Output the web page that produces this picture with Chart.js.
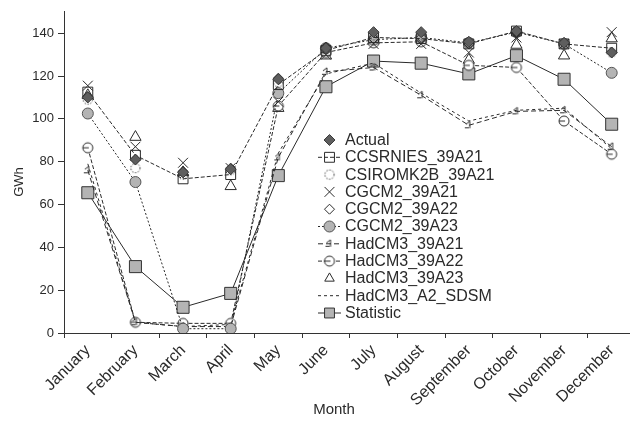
<!DOCTYPE html>
<html>
<head>
<meta charset="utf-8">
<script src="https://cdn.jsdelivr.net/npm/chart.js@4.4.1/dist/chart.umd.min.js"></script>
<style>
html,body{margin:0;padding:0;background:#fff;overflow:hidden;}
#wrap{width:645px;height:426px;}
</style>
</head>
<body>
<div id="wrap"><canvas id="c" width="645" height="426"></canvas></div>
<script>
const months = ["January","February","March","April","May","June","July","August","September","October","November","December"];
const yTicks = [0,20,40,60,80,100,120,140];
const xTitle = "Month";
const yTitle = "GWh";
const actual     = [110, 81, 75, 76.5, 118.5, 133, 140.5, 140.5, 136, 141, 135.5, 131];
const ccsrnies   = [112.5, 83, 72, 74, 116, 132, 138, 137.5, 135, 141, 135, 133];
const csiromk2b  = [109, 77, 74, 76, 117, 133, 139, 139, 135.5, 140.5, 135, 131];
const cgcm2_21   = [115.5, 87, 79.5, 77, 108, 130, 135, 135, 131, 138, 135, 140.5];
const cgcm2_22   = [110.5, 81, 75.5, 77, 119, 133.5, 137.5, 138, 135, 140, 135.5, 131];
const cgcm2_23   = [102.5, 70.5, 2, 2, 112, 133, 137, 138, 135.5, 140.5, 135, 121.5];
const hadcm3_21  = [76, 5, 3, 3, 82, 122, 124, 111, 97, 103.5, 104, 87];
const hadcm3_22  = [86.5, 5, 4.5, 4.5, 106, 131, 135.5, 136, 125, 124, 99, 83.5];
const hadcm3_23  = [111, 91.5, 75, 68.5, 105, 129.5, 136.5, 138, 127.5, 134.5, 129.5, 137.5];
const sdsm       = [79, 5, 3, 4, 84, 121, 126, 112, 99, 104, 105, 86];
const statistic  = [65.5, 31, 12, 18.5, 73.5, 115, 127, 126, 121, 129.5, 118.5, 97.5];

const INK = '#2a2a2a';
const FONT = "'Liberation Sans', Arial, sans-serif";

function makeMarker(drawFn){
  const cv = document.createElement('canvas');
  cv.width = 14; cv.height = 14;
  const g = cv.getContext('2d');
  g.translate(7,7);
  drawFn(g);
  return cv;
}
const dottedCircle = makeMarker(g=>{
  g.strokeStyle = INK; g.lineWidth = 1; g.setLineDash([1.4,1.6]);
  g.beginPath(); g.arc(0,0,4.6,0,Math.PI*2); g.stroke();
});
const minusCircle = makeMarker(g=>{
  g.fillStyle='#fff'; g.strokeStyle = INK; g.lineWidth = 1;
  g.beginPath(); g.arc(0,0,5,0,Math.PI*2); g.fill(); g.stroke();
  g.beginPath(); g.moveTo(-5,0); g.lineTo(1,0); g.stroke();
});
const hadDash = makeMarker(g=>{
  g.strokeStyle = INK; g.lineWidth = 1;
  g.beginPath(); g.moveTo(-4,2.5); g.lineTo(0,2.5); g.stroke();
  g.beginPath(); g.moveTo(-3,-1); g.lineTo(1,-4); g.lineTo(1,3); g.stroke();
});

const ds = (label, data, o) => Object.assign({
  label, data, borderColor: INK, pointBorderColor: INK, pointBackgroundColor: '#fff',
  borderWidth: 1, pointBorderWidth: 1, fill: false, tension: 0, showLine: true
}, o);

const datasets = [
  ds('Actual', actual, {showLine:false, pointStyle:'rectRot', pointRadius:5.5, pointBackgroundColor:'#5e5e5e', pointBorderColor:'#3a3a3a'}),
  ds('CCSRNIES_39A21', ccsrnies, {borderDash:[4,2], pointStyle:'rect', pointRadius:7, pointBackgroundColor:'rgba(255,255,255,0)'}),
  ds('CSIROMK2B_39A21', csiromk2b, {showLine:false, pointStyle:dottedCircle, pointRadius:5}),
  ds('CGCM2_39A21', cgcm2_21, {showLine:false, pointStyle:'crossRot', pointRadius:7}),
  ds('CGCM2_39A22', cgcm2_22, {showLine:false, pointStyle:'rectRot', pointRadius:5, pointBackgroundColor:'rgba(255,255,255,0)'}),
  ds('CGCM2_39A23', cgcm2_23, {borderDash:[2,2], pointStyle:'circle', pointRadius:5.5, pointBackgroundColor:'#b4b4b4', pointBorderColor:'#555'}),
  ds('HadCM3_39A21', hadcm3_21, {borderDash:[5,3], pointStyle:hadDash, pointRadius:5}),
  ds('HadCM3_39A22', hadcm3_22, {borderDash:[4,2], pointStyle:minusCircle, pointRadius:5}),
  ds('HadCM3_39A23', hadcm3_23, {showLine:false, pointStyle:'triangle', pointRadius:6.5, pointBackgroundColor:'rgba(255,255,255,0)'}),
  ds('HadCM3_A2_SDSM', sdsm, {borderDash:[3,3], pointRadius:0, pointStyle:false}),
  ds('Statistic', statistic, {pointStyle:'rect', pointRadius:8.5, pointBackgroundColor:'#b4b4b4', pointBorderColor:'#333'})
];

const legendPlugin = {
  id: 'customLegend',
  afterDraw(chart){
    const ctx = chart.ctx;
    const x0 = 318, x1 = 341, mx = 329.5, tx = 345, y0 = 140, dy = 17.3;
    ctx.save();
    ctx.font = '16px ' + FONT;
    ctx.textBaseline = 'middle';
    ctx.textAlign = 'left';
    chart.data.datasets.forEach((d, i) => {
      const y = y0 + i*dy;
      if (d.showLine !== false) {
        ctx.save();
        ctx.strokeStyle = d.borderColor; ctx.lineWidth = 1;
        ctx.setLineDash(d.borderDash || []);
        ctx.beginPath(); ctx.moveTo(x0, y); ctx.lineTo(x1, y); ctx.stroke();
        ctx.restore();
      }
      if (d.pointStyle && d.pointRadius > 0) {
        ctx.save();
        ctx.fillStyle = d.pointBackgroundColor;
        ctx.strokeStyle = d.pointBorderColor;
        ctx.lineWidth = d.pointBorderWidth;
        let r = Math.min(d.pointRadius, 6);
        if (d.pointStyle === 'rect') r = 7;
        if (d.pointStyle === 'crossRot') r = 7;
        if (d.pointStyle === 'triangle') r = 5.5;
        Chart.helpers.drawPoint(ctx, {pointStyle: d.pointStyle, radius: r, borderWidth: d.pointBorderWidth, rotation: 0}, mx, y);
        ctx.restore();
      }
      ctx.fillStyle = INK;
      ctx.fillText(d.label, tx, y + 0.5);
    });
    // axis titles
    ctx.fillStyle = INK;
    ctx.textAlign = 'center';
    ctx.textBaseline = 'middle';
    ctx.font = '15px ' + FONT;
    ctx.fillText(xTitle, 334, 410);
    ctx.translate(19, 182);
    ctx.rotate(-Math.PI/2);
    ctx.font = '13px ' + FONT;
    ctx.fillText(yTitle, 0, 0);
    ctx.restore();
  }
};

new Chart(document.getElementById('c'), {
  type: 'line',
  data: { labels: months, datasets },
  plugins: [legendPlugin],
  options: {
    responsive: false,
    animation: false,
    layout: { padding: { left: 0, right: 4, top: 10, bottom: 0 } },
    plugins: { legend: { display: false }, tooltip: { enabled: false } },
    scales: {
      x: {
        type: 'category',
        offset: true,
        grid: { offset: true, drawOnChartArea: false, drawTicks: true, tickLength: 5, color: '#333' },
        border: { display: true, color: '#333', width: 1 },
        ticks: { maxRotation: 45, minRotation: 45, autoSkip: false, color: INK, font: { family: FONT, size: 16 }, padding: 3 },
        afterFit(s){ s.height = 93; }
      },
      y: {
        min: 0, max: 150,
        afterBuildTicks(s){ s.ticks = yTicks.map(v => ({ value: v })); },
        grid: { drawOnChartArea: false, drawTicks: true, tickLength: 6, color: '#333' },
        border: { display: true, color: '#333', width: 1 },
        ticks: { color: INK, font: { family: FONT, size: 13 }, padding: 4 },
        afterFit(s){ s.width = 64; }
      }
    }
  }
});
</script>
</body>
</html>
